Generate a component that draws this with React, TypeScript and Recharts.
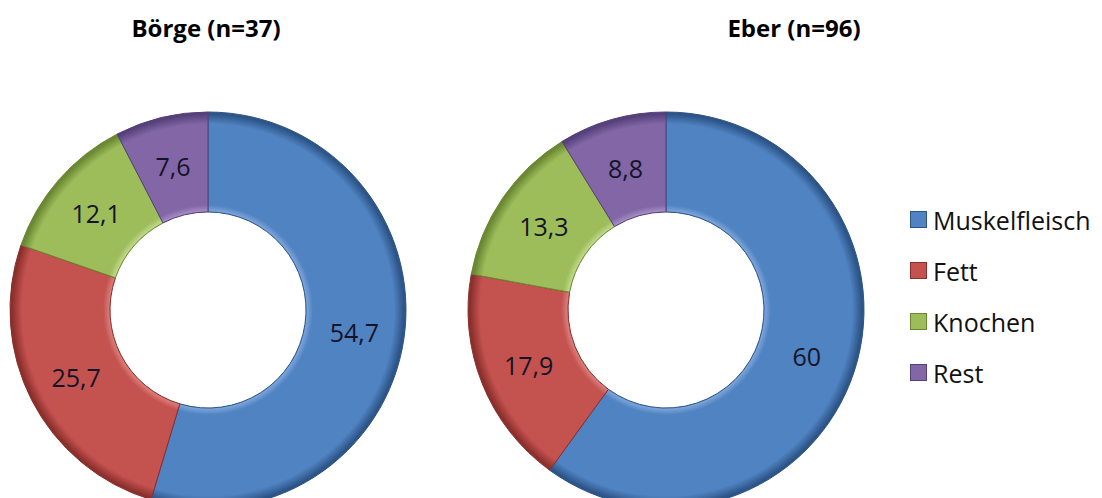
import React from 'react';
import { PieChart, Pie, Cell } from 'recharts';

const categories = ['Muskelfleisch', 'Fett', 'Knochen', 'Rest'];
const boergeValues = [54.7, 25.7, 12.1, 7.6];
const eberValues = [60, 17.9, 13.3, 8.8];
const titles = ['Börge (n=37)', 'Eber (n=96)'];

const baseColors = ['#5083C2', '#C4524F', '#9DBD5B', '#8266A6'];
const lightColors = ['#7AA3D8', '#D87C79', '#BED887', '#A48BC3'];
const darkColors = ['#2C5487', '#8A2F2C', '#6A8732', '#55407A'];

const FONT = '"Open Sans", "Noto Sans", sans-serif';

const pies = [
  { key: 'b', values: boergeValues, cx: 208, cy: 310 },
  { key: 'e', values: eberValues, cx: 666, cy: 310 },
];
const OUTER = 198;
const INNER = 98;

const fmt = (v: number) => String(v).replace('.', ',');

const RADIAN = Math.PI / 180;
const renderLabel = (props: any) => {
  const { cx, cy, midAngle, innerRadius, outerRadius, value } = props;
  const r = (innerRadius + outerRadius) / 2;
  const x = cx + r * Math.cos(-midAngle * RADIAN);
  const y = cy + r * Math.sin(-midAngle * RADIAN);
  return (
    <text
      x={x}
      y={y}
      fill="#141428"
      textAnchor="middle"
      dominantBaseline="central"
      fontSize={25}
      fontFamily={FONT}
    >
      {fmt(value)}
    </text>
  );
};

export default function App() {
  return (
    <div style={{ position: 'absolute', left: 0, top: 0, width: 1102, height: 498, background: '#fff', overflow: 'hidden' }}>
      <PieChart width={1102} height={498} margin={{ top: 0, right: 0, bottom: 0, left: 0 }}>
        <defs>
          {pies.map((p) =>
            baseColors.map((c, i) => (
              <radialGradient
                key={`${p.key}-${i}`}
                id={`grad-${p.key}-${i}`}
                gradientUnits="userSpaceOnUse"
                cx={p.cx}
                cy={p.cy}
                r={OUTER}
              >
                <stop offset="0.49" stopColor={c} />
                <stop offset="0.5" stopColor={lightColors[i]} />
                <stop offset="0.53" stopColor={c} />
                <stop offset="0.94" stopColor={c} />
                <stop offset="0.99" stopColor={darkColors[i]} />
                <stop offset="1" stopColor={darkColors[i]} />
              </radialGradient>
            ))
          )}
        </defs>
        {pies.map((p) => (
          <Pie
            key={p.key}
            data={categories.map((name, i) => ({ name, value: p.values[i] }))}
            dataKey="value"
            nameKey="name"
            cx={p.cx}
            cy={p.cy}
            innerRadius={INNER}
            outerRadius={OUTER}
            startAngle={90}
            endAngle={-270}
            isAnimationActive={false}
            labelLine={false}
            label={renderLabel}
          >
            {categories.map((_, i) => (
              <Cell key={i} fill={`url(#grad-${p.key}-${i})`} stroke={darkColors[i]} strokeWidth={1} />
            ))}
          </Pie>
        ))}
      </PieChart>
      <div style={{ position: 'absolute', left: 106, top: 11, width: 200, textAlign: 'center', fontFamily: FONT, fontWeight: 700, fontSize: 24, color: '#000' }}>
        {titles[0]}
      </div>
      <div style={{ position: 'absolute', left: 694, top: 11, width: 200, textAlign: 'center', fontFamily: FONT, fontWeight: 700, fontSize: 24, color: '#000' }}>
        {titles[1]}
      </div>
      <div style={{ position: 'absolute', left: 910, top: 194, fontFamily: FONT, fontSize: 25, color: '#111' }}>
        {categories.map((name, i) => (
          <div key={name} style={{ display: 'flex', alignItems: 'center', height: 51 }}>
            <span
              style={{
                display: 'inline-block',
                width: 15,
                height: 15,
                marginRight: 6,
                background: baseColors[i],
                border: `1px solid ${darkColors[i]}`,
              }}
            />
            <span>{name}</span>
          </div>
        ))}
      </div>
    </div>
  );
}
